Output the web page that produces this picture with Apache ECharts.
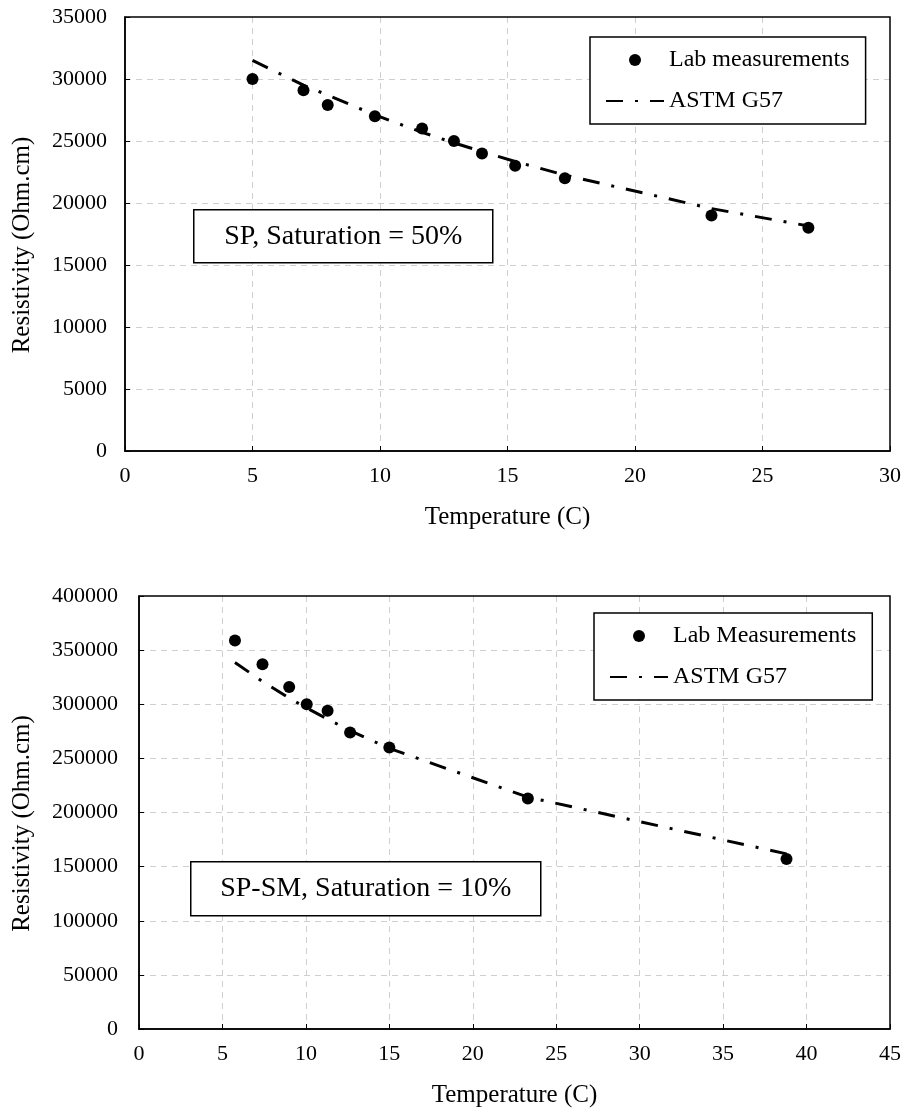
<!DOCTYPE html>
<html>
<head>
<meta charset="utf-8">
<script src="https://cdn.jsdelivr.net/npm/echarts@6/dist/echarts.min.js"></script>
<style>
html,body{margin:0;padding:0;background:#fff;}
#chart{width:907px;height:1109px;}
</style>
</head>
<body>
<div id="chart"></div>
<script>
// ---- Data ----
// Top panel: SP, Saturation = 50%
const topTemps      = [5, 7, 7.95, 9.8, 11.65, 12.9, 14, 15.3, 17.25, 23, 26.8];
const topMeasured   = [30000, 29100, 27900, 27000, 26000, 25000, 24000, 23000, 22000, 19000, 18000];
const topAstm       = [31500, 29500, 28700, 27100, 25700, 24850, 24150, 23350, 22250, 19550, 18150];
// Bottom panel: SP-SM, Saturation = 10%
const botTemps      = [5.75, 7.4, 9.0, 10.05, 11.3, 12.65, 15.0, 23.3, 38.8];
const botMeasured   = [359000, 337000, 316000, 300000, 294000, 274000, 260000, 213000, 157000];
const botAstm       = [338600, 321000, 305700, 296500, 286200, 275700, 259200, 214200, 161800];
// Axis ranges / ticks
const topX = {min: 0, max: 30, step: 5};
const topY = {min: 0, max: 35000, step: 5000};
const botX = {min: 0, max: 45, step: 5};
const botY = {min: 0, max: 400000, step: 50000};
// Labels
const xTitle = 'Temperature (C)';
const yTitle = 'Resistivity (Ohm.cm)';
const measLabelTop = 'Lab measurements';
const measLabelBot = 'Lab Measurements';
const astmLabel = 'ASTM G57';
const noteTop = 'SP, Saturation = 50%';
const noteBot = 'SP-SM, Saturation = 10%';

const FONT = "'Liberation Serif', 'Times New Roman', serif";
const zip = (xs, ys) => xs.map((x, i) => [x, ys[i]]);
const plain = v => String(v);

const chart = echarts.init(document.getElementById('chart'), null, {renderer: 'canvas'});

function xAxisCfg(r, gi) {
  return {
    gridIndex: gi, type: 'value', min: r.min, max: r.max, interval: r.step,
    name: xTitle, nameLocation: 'middle', nameGap: 54,
    nameTextStyle: {fontFamily: FONT, fontSize: 25, color: '#000'},
    axisLine: {show: true, onZero: false, lineStyle: {color: '#000', width: 1.5}},
    axisTick: {show: true, inside: true, length: 5, lineStyle: {color: '#000', width: 1}},
    axisLabel: {fontFamily: FONT, fontSize: 22, color: '#000', margin: 14, formatter: plain},
    splitLine: {show: true, showMinLine: false, showMaxLine: false,
                lineStyle: {color: '#cfcfcf', type: [6, 5], width: 1}}
  };
}
function yAxisCfg(r, gi, margin, gap) {
  return {
    gridIndex: gi, type: 'value', min: r.min, max: r.max, interval: r.step,
    name: yTitle, nameLocation: 'middle', nameGap: gap, nameRotate: 90,
    nameTextStyle: {fontFamily: FONT, fontSize: 25, color: '#000', padding: [0, 22, 0, 0]},
    axisLine: {show: true, onZero: false, lineStyle: {color: '#000', width: 1.5}},
    axisTick: {show: true, inside: true, length: 5, lineStyle: {color: '#000', width: 1}},
    axisLabel: {fontFamily: FONT, fontSize: 22, color: '#000', margin: margin, formatter: plain},
    splitLine: {show: true, showMinLine: false, showMaxLine: false,
                lineStyle: {color: '#cfcfcf', type: [6, 5], width: 1}}
  };
}
function scatterCfg(name, gi, data) {
  return {
    name: name, type: 'scatter', xAxisIndex: gi, yAxisIndex: gi,
    data: data, symbol: 'circle', symbolSize: 12,
    itemStyle: {color: '#000', opacity: 1}, z: 3
  };
}
function lineCfg(name, gi, data) {
  return {
    name: name, type: 'line', xAxisIndex: gi, yAxisIndex: gi,
    data: data, symbol: 'none', showSymbol: false, smooth: false,
    lineStyle: {color: '#000', width: 3, type: [17, 12, 3, 12]},
    itemStyle: {color: '#000'}, z: 2
  };
}
function legendCfg(left, top, names) {
  return {
    left: left, top: top, orient: 'vertical',
    data: names,
    itemWidth: 58, itemHeight: 12, itemGap: 17,
    padding: [11, 16, 11, 15],
    borderColor: '#000', borderWidth: 1.5, backgroundColor: '#fff',
    textStyle: {fontFamily: FONT, fontSize: 24, color: '#000'},
    selectedMode: false
  };
}
function noteBox(x, y, w, h, text, fs) {
  return {
    type: 'group', left: x, top: y,
    children: [
      {type: 'rect', shape: {x: 0, y: 0, width: w, height: h},
       style: {fill: '#fff', stroke: '#000', lineWidth: 1.5}, z: 10},
      {type: 'text', x: w / 2, y: h / 2, z: 11,
       style: {text: text, fontFamily: FONT, fontSize: fs, fill: '#000',
               textAlign: 'center', textVerticalAlign: 'middle'}}
    ]
  };
}
const hiddenSym = {color: 'rgba(0,0,0,0)', borderColor: 'rgba(0,0,0,0)', borderWidth: 0, opacity: 0};

chart.setOption({
  animation: false,
  backgroundColor: '#fff',
  grid: [
    {left: 125, top: 17, width: 765, height: 434, show: true, borderColor: '#000', borderWidth: 1.5, backgroundColor: 'transparent', z: 5},
    {left: 139, top: 596, width: 751, height: 433, show: true, borderColor: '#000', borderWidth: 1.5, backgroundColor: 'transparent', z: 5}
  ],
  xAxis: [xAxisCfg(topX, 0), xAxisCfg(botX, 1)],
  yAxis: [yAxisCfg(topY, 0, 18, 90), yAxisCfg(botY, 1, 21, 104)],
  legend: [
    legendCfg(590, 37, [{name: measLabelTop, icon: 'circle', itemStyle: {color: '#000', opacity: 1}},
                        {name: astmLabel + ' ', itemStyle: hiddenSym}]),
    legendCfg(594, 613, [{name: measLabelBot, icon: 'circle', itemStyle: {color: '#000', opacity: 1}},
                         {name: astmLabel, itemStyle: hiddenSym}])
  ],
  series: [
    scatterCfg(measLabelTop, 0, zip(topTemps, topMeasured)),
    lineCfg(astmLabel + ' ', 0, zip(topTemps, topAstm)),
    scatterCfg(measLabelBot, 1, zip(botTemps, botMeasured)),
    lineCfg(astmLabel, 1, zip(botTemps, botAstm))
  ],
  graphic: [
    noteBox(193, 209, 299, 53, noteTop, 28),
    noteBox(190, 861, 350, 54, noteBot, 28)
  ]
});
</script>
</body>
</html>
